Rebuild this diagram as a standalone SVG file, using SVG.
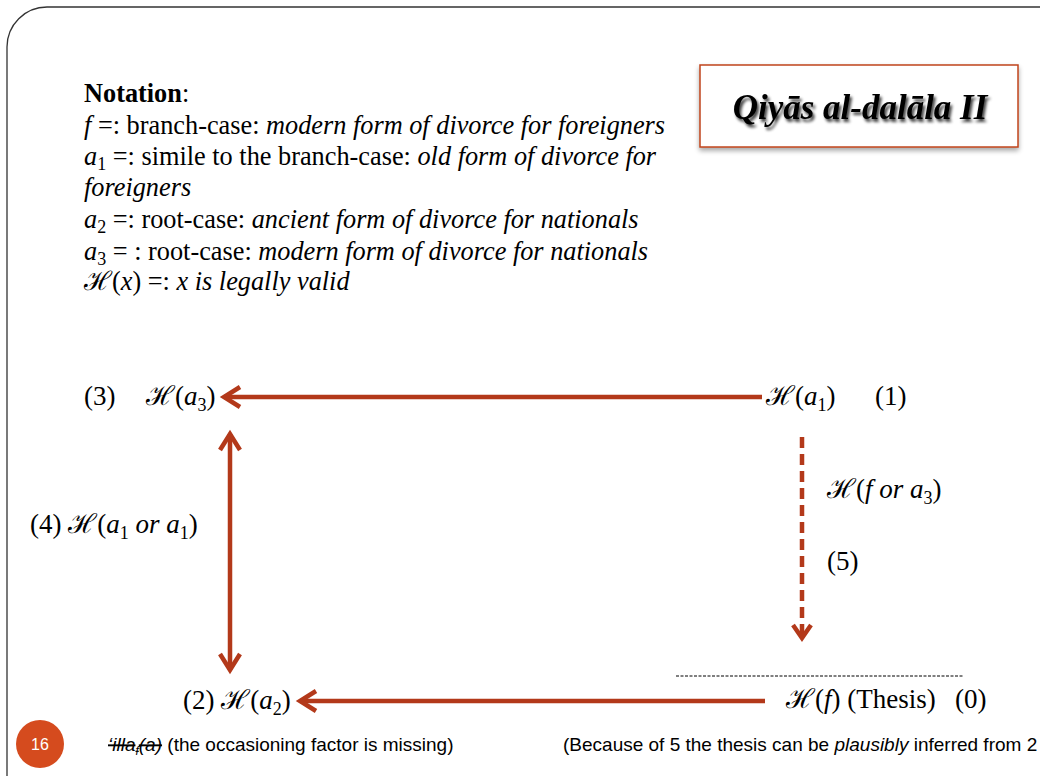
<svg xmlns="http://www.w3.org/2000/svg" width="1040" height="776" viewBox="0 0 1040 776">
<defs>
<style>
.serif{font-family:"Liberation Serif","Times New Roman",serif;fill:#000}
.sans{font-family:"Liberation Sans",Arial,sans-serif;fill:#000}
.note{font-size:26.3px}
.dia{font-size:27px}
.arr{stroke:#B3391A;stroke-width:4.5;fill:none}
.head{stroke:#B3391A;stroke-width:4.5;fill:none;stroke-linecap:butt;stroke-linejoin:miter}
</style>
<filter id="shadow" x="-10%" y="-10%" width="120%" height="130%">
<feGaussianBlur in="SourceAlpha" stdDeviation="2.5"/>
<feOffset dx="0" dy="3" result="b"/>
<feComponentTransfer><feFuncA type="linear" slope="0.35"/></feComponentTransfer>
<feMerge><feMergeNode/><feMergeNode in="SourceGraphic"/></feMerge>
</filter>
<filter id="tshadow" x="-10%" y="-20%" width="120%" height="150%">
<feGaussianBlur in="SourceAlpha" stdDeviation="1.8"/>
<feOffset dx="2" dy="3" result="b"/>
<feComponentTransfer><feFuncA type="linear" slope="0.75"/></feComponentTransfer>
<feMerge><feMergeNode/><feMergeNode in="SourceGraphic"/></feMerge>
</filter>
</defs>
<rect width="1040" height="776" fill="#fff"/>
<rect x="7" y="7" width="1080" height="820" rx="40" ry="40" fill="none" stroke="#333" stroke-width="1.3"/>

<g id="title">
<rect x="700" y="65" width="318" height="82" fill="#fff" stroke="#C0441C" stroke-width="1.5" filter="url(#shadow)"/>
<text x="860" y="119" text-anchor="middle" class="serif" font-size="35" font-weight="bold" font-style="italic" filter="url(#tshadow)">Qiyās al-dalāla II</text>
</g>

<g id="notation" class="serif note">
<text x="84" y="102"><tspan font-weight="bold">Notation</tspan>:</text>
<text x="84" y="134"><tspan font-style="italic">f</tspan> =: branch-case: <tspan font-style="italic">modern form of divorce for foreigners</tspan></text>
<text x="84" y="165"><tspan font-style="italic">a</tspan><tspan font-size="18" dy="5">1</tspan><tspan dy="-5"> =: simile to the branch-case: </tspan><tspan font-style="italic">old form of divorce for</tspan></text>
<text x="84" y="196" font-style="italic">foreigners</text>
<text x="84" y="228"><tspan font-style="italic">a</tspan><tspan font-size="18" dy="5">2</tspan><tspan dy="-5"> =: root-case: </tspan><tspan font-style="italic">ancient form of divorce for nationals</tspan></text>
<text x="84" y="260"><tspan font-style="italic">a</tspan><tspan font-size="18" dy="5">3</tspan><tspan dy="-5"> = : root-case: </tspan><tspan font-style="italic">modern form of divorce for nationals</tspan></text>
<text x="84" y="290">ℋ(<tspan font-style="italic">x</tspan>) =: <tspan font-style="italic">x is legally valid</tspan></text>
</g>

<g id="connectors">
<line class="arr" x1="762" y1="397" x2="224" y2="397"/>
<polyline class="head" points="240,387 224,397 240,407"/>
<line class="arr" x1="230" y1="434" x2="230" y2="670"/>
<polyline class="head" points="220,450 230,434 240,450"/>
<polyline class="head" points="220,654 230,670 240,654"/>
<line class="arr" x1="765" y1="701" x2="300" y2="701"/>
<polyline class="head" points="316,691 300,701 316,711"/>
<line class="arr" x1="802" y1="437" x2="802" y2="636" stroke-dasharray="11,6"/>
<polyline class="head" points="793,625 802,638 811,625"/>
<line x1="676" y1="676" x2="964" y2="676" stroke="#000" stroke-width="1" stroke-dasharray="3,1.5"/>
</g>

<g id="n3" class="serif dia">
<text x="84" y="405">(3)</text>
<text x="146" y="405">ℋ(<tspan font-style="italic">a</tspan><tspan font-size="18" dy="6">3</tspan><tspan dy="-6">)</tspan></text>
</g>
<g id="n1" class="serif dia">
<text x="766" y="405">ℋ(<tspan font-style="italic">a</tspan><tspan font-size="18" dy="6">1</tspan><tspan dy="-6">)</tspan></text>
<text x="875" y="405">(1)</text>
</g>
<g id="n5" class="serif dia">
<text x="827" y="498">ℋ(<tspan font-style="italic">f or a</tspan><tspan font-size="18" dy="6">3</tspan><tspan dy="-6">)</tspan></text>
<text x="827" y="570">(5)</text>
</g>
<g id="n4" class="serif dia">
<text x="30" y="533">(4) ℋ(<tspan font-style="italic">a</tspan><tspan font-size="18" dy="6">1</tspan><tspan dy="-6" font-style="italic"> or a</tspan><tspan font-size="18" dy="6">1</tspan><tspan dy="-6">)</tspan></text>
</g>
<g id="n2" class="serif dia">
<text x="183" y="709">(2) ℋ(<tspan font-style="italic">a</tspan><tspan font-size="18" dy="6">2</tspan><tspan dy="-6">)</tspan></text>
</g>
<g id="n0" class="serif dia">
<text x="786" y="708">ℋ(<tspan font-style="italic">f</tspan>) (Thesis)<tspan x="955">(0)</tspan></text>
</g>

<g id="footnotes" class="sans" font-size="19">
<text x="108" y="751"><tspan font-style="italic" text-decoration="line-through">‘illa<tspan font-size="12" dy="4">f</tspan><tspan dy="-4">(a)</tspan></tspan> (the occasioning factor is missing)</text>
<text x="563" y="751">(Because of 5 the thesis can be <tspan font-style="italic">plausibly</tspan> inferred from 2</text>
</g>

<g id="page">
<circle cx="40" cy="744" r="24" fill="#D54B1E"/>
<text x="40" y="750" text-anchor="middle" class="sans" font-size="16" style="fill:#fff">16</text>
</g>
</svg>
